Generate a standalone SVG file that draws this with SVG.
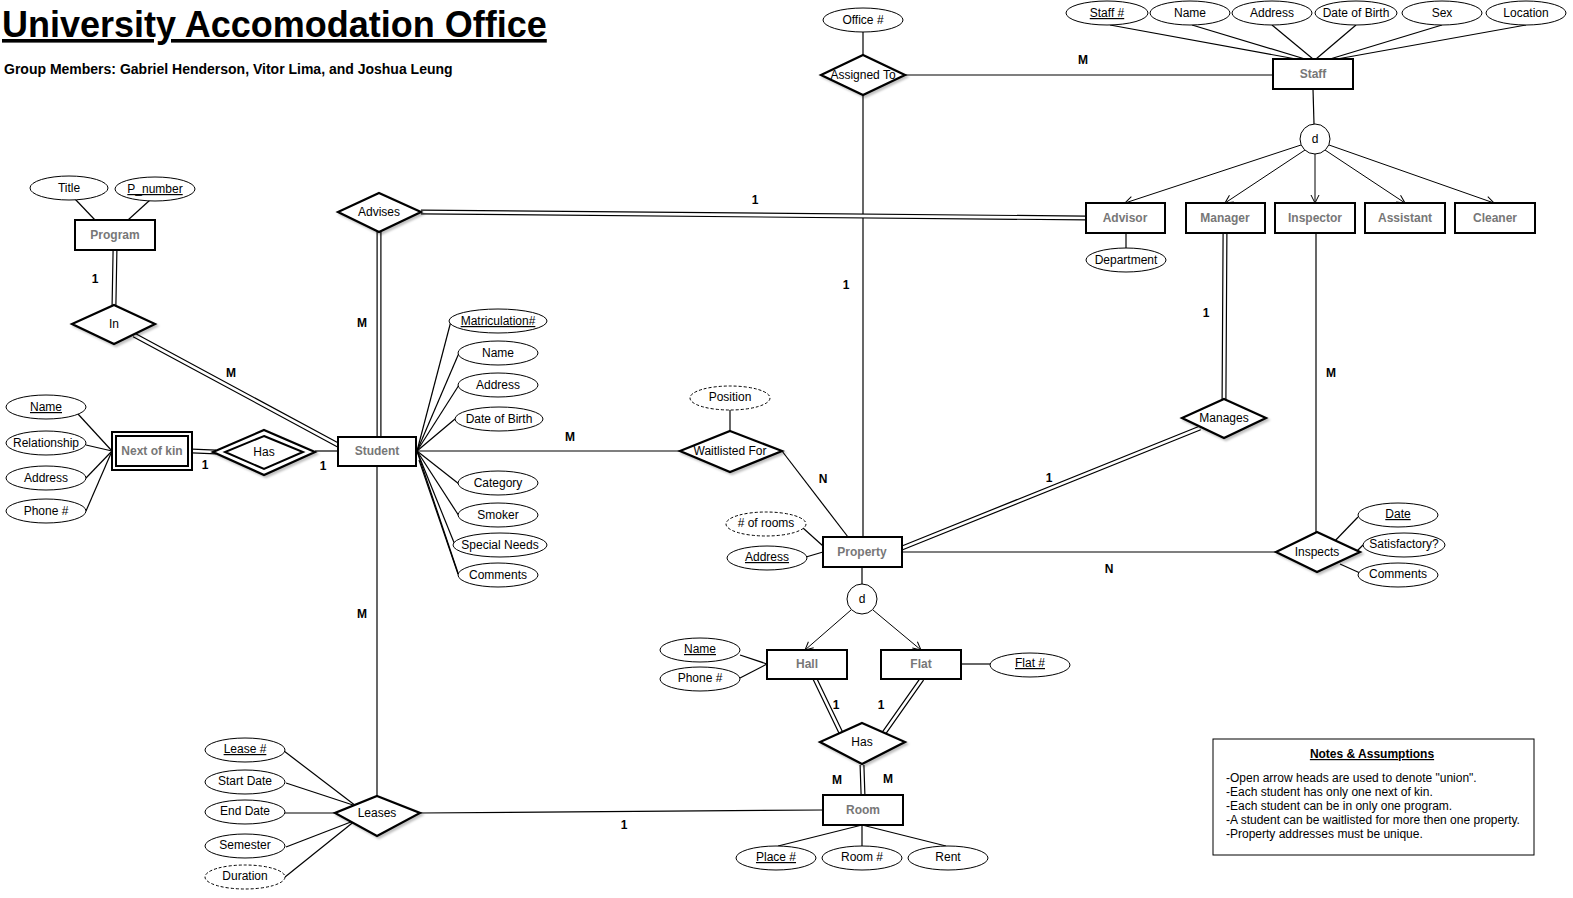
<svg xmlns="http://www.w3.org/2000/svg" width="1573" height="898" viewBox="0 0 1573 898">
<defs>
<style>
text{font-family:"Liberation Sans",Arial,sans-serif;fill:#000}
.ent{fill:#fff;stroke:#000;stroke-width:2}
.et{font-size:12px;font-weight:bold;fill:#777;text-anchor:middle}
.rel{fill:#fff;stroke:#000;stroke-width:2.2;filter:url(#sh)}
.rt{font-size:12px;text-anchor:middle}
.att{fill:#fff;stroke:#000;stroke-width:1}
.dash{stroke-dasharray:3,2}
.at{font-size:12px;text-anchor:middle}
.u{text-decoration:underline}
.ln{stroke:#000;stroke-width:1.2;fill:none}
.dbo{stroke:#000;stroke-width:5;fill:none}
.dbi{stroke:#fff;stroke-width:2.6;fill:none}
.card{font-size:12px;font-weight:bold;text-anchor:middle}
.arr{stroke:#000;stroke-width:1;fill:none;marker-end:url(#open)}
</style>
<marker id="open" viewBox="0 0 10 10" refX="9" refY="5" markerWidth="10" markerHeight="10" markerUnits="userSpaceOnUse" orient="auto">
<path d="M1,1 L9,5 L1,9" fill="none" stroke="#000" stroke-width="1"/>
</marker>
<filter id="sh" x="-20%" y="-20%" width="150%" height="150%">
<feDropShadow dx="2" dy="2" stdDeviation="1" flood-color="#000" flood-opacity="0.25"/>
</filter>
</defs>
<rect width="1573" height="898" fill="#fff"/>

<g id="title">
<text x="2" y="37" font-size="36" font-weight="bold" text-decoration="underline">University Accomodation Office</text>
<text x="4" y="74" font-size="14" font-weight="bold">Group Members: Gabriel Henderson, Vitor Lima, and Joshua Leung</text>
</g>

<g id="connectors">
<!-- attribute lines -->
<line class="ln" x1="863" y1="32" x2="863" y2="55"/>
<line class="ln" x1="1110" y1="25" x2="1296" y2="59"/>
<line class="ln" x1="1192" y1="25" x2="1305" y2="59"/>
<line class="ln" x1="1272" y1="25" x2="1313" y2="59"/>
<line class="ln" x1="1356" y1="25" x2="1316" y2="59"/>
<line class="ln" x1="1442" y1="25" x2="1330" y2="59"/>
<line class="ln" x1="1526" y1="25" x2="1337" y2="59"/>
<line class="ln" x1="1313" y1="89" x2="1314" y2="124"/>
<line class="ln" x1="1126" y1="233" x2="1126" y2="248"/>
<line class="ln" x1="75" y1="199" x2="95" y2="220"/>
<line class="ln" x1="150" y1="200" x2="128" y2="220"/>
<line class="ln" x1="78" y1="414" x2="112" y2="451"/>
<line class="ln" x1="86" y1="445" x2="112" y2="451"/>
<line class="ln" x1="86" y1="478" x2="112" y2="451"/>
<line class="ln" x1="86" y1="511" x2="112" y2="451"/>
<line class="ln" x1="451" y1="321" x2="417" y2="451"/>
<line class="ln" x1="459" y1="353" x2="417" y2="451"/>
<line class="ln" x1="459" y1="385" x2="417" y2="451"/>
<line class="ln" x1="455" y1="419" x2="417" y2="451"/>
<line class="ln" x1="459" y1="484" x2="417" y2="451"/>
<line class="ln" x1="459" y1="516" x2="417" y2="451"/>
<line class="ln" x1="455" y1="545" x2="417" y2="451"/>
<line class="ln" x1="459" y1="576" x2="417" y2="451"/>
<line class="ln" x1="458" y1="574" x2="419" y2="460"/>
<line class="ln" x1="730" y1="409" x2="730" y2="431"/>
<line class="ln" x1="803" y1="528" x2="823" y2="546"/>
<line class="ln" x1="806" y1="557" x2="823" y2="552"/>
<line class="ln" x1="1358" y1="517" x2="1331" y2="545"/>
<line class="ln" x1="1363" y1="545" x2="1353" y2="555"/>
<line class="ln" x1="1360" y1="573" x2="1340" y2="564"/>
<line class="ln" x1="740" y1="655" x2="767" y2="664"/>
<line class="ln" x1="740" y1="678" x2="767" y2="664"/>
<line class="ln" x1="961" y1="664" x2="990" y2="664"/>
<line class="ln" x1="862" y1="825" x2="778" y2="846"/>
<line class="ln" x1="862" y1="825" x2="862" y2="846"/>
<line class="ln" x1="862" y1="825" x2="946" y2="846"/>
<line class="ln" x1="284" y1="751" x2="356" y2="806"/>
<line class="ln" x1="286" y1="783" x2="356" y2="806"/>
<line class="ln" x1="285" y1="813" x2="335" y2="813"/>
<line class="ln" x1="286" y1="847" x2="356" y2="820"/>
<line class="ln" x1="285" y1="877" x2="356" y2="820"/>
<line class="ln" x1="862" y1="567" x2="862" y2="584"/>

<!-- specialisation arrows -->
<line class="arr" x1="1301" y1="145" x2="1125" y2="203"/>
<line class="arr" x1="1305" y1="150" x2="1225" y2="203"/>
<line class="arr" x1="1315" y1="154" x2="1315" y2="203"/>
<line class="arr" x1="1325" y1="150" x2="1405" y2="203"/>
<line class="arr" x1="1329" y1="145" x2="1494" y2="203"/>
<line class="arr" x1="851" y1="610" x2="805" y2="650"/>
<line class="arr" x1="873" y1="610" x2="921" y2="650"/>

<!-- relationship lines -->
<line class="ln" x1="905" y1="75" x2="1273" y2="75"/>
<line class="ln" x1="863" y1="95" x2="863" y2="537"/>
<line class="ln" x1="315" y1="451" x2="338" y2="451"/>
<line class="ln" x1="417" y1="451" x2="680" y2="451"/>
<line class="ln" x1="782" y1="451" x2="848" y2="537"/>
<line class="ln" x1="1316" y1="233" x2="1316" y2="532"/>
<line class="ln" x1="902" y1="552" x2="1276" y2="552"/>
<line class="ln" x1="377" y1="466" x2="377" y2="796"/>
<line class="ln" x1="420" y1="813" x2="823" y2="810"/>

<g id="double-lines">
<path class="dbo" d="M421,212 L1086,218 M379,232 L379,437 M115,250 L114,305 M134,335 L338,445 M192,451 L216,452 M1225,233 L1224,399 M1200,428 L902,548 M815,679 L841,733 M922,679 L884,733 M862,765 L863,795"/>
<path class="dbi" d="M421,212 L1086,218 M379,232 L379,437 M115,250 L114,305 M134,335 L338,445 M192,451 L216,452 M1225,233 L1224,399 M1200,428 L902,548 M815,679 L841,733 M922,679 L884,733 M862,765 L863,795"/>
</g>

<!-- cardinalities -->
<text class="card" x="1083" y="64">M</text>
<text class="card" x="846" y="289">1</text>
<text class="card" x="755" y="204">1</text>
<text class="card" x="362" y="327">M</text>
<text class="card" x="95" y="283">1</text>
<text class="card" x="231" y="377">M</text>
<text class="card" x="205" y="469">1</text>
<text class="card" x="323" y="470">1</text>
<text class="card" x="570" y="441">M</text>
<text class="card" x="823" y="483">N</text>
<text class="card" x="1206" y="317">1</text>
<text class="card" x="1049" y="482">1</text>
<text class="card" x="1331" y="377">M</text>
<text class="card" x="1109" y="573">N</text>
<text class="card" x="836" y="709">1</text>
<text class="card" x="881" y="709">1</text>
<text class="card" x="837" y="784">M</text>
<text class="card" x="888" y="783">M</text>
<text class="card" x="362" y="618">M</text>
<text class="card" x="624" y="829">1</text>
</g>

<!-- Entities -->
<g id="staff"><rect class="ent" x="1273" y="59" width="80" height="30"/><text class="et" x="1313" y="78">Staff</text></g>
<g id="advisor"><rect class="ent" x="1086" y="203" width="79" height="30"/><text class="et" x="1125" y="222">Advisor</text></g>
<g id="manager"><rect class="ent" x="1186" y="203" width="79" height="30"/><text class="et" x="1225" y="222">Manager</text></g>
<g id="inspector"><rect class="ent" x="1275" y="203" width="80" height="30"/><text class="et" x="1315" y="222">Inspector</text></g>
<g id="assistant"><rect class="ent" x="1365" y="203" width="80" height="30"/><text class="et" x="1405" y="222">Assistant</text></g>
<g id="cleaner"><rect class="ent" x="1455" y="203" width="80" height="30"/><text class="et" x="1495" y="222">Cleaner</text></g>
<g id="program"><rect class="ent" x="75" y="220" width="80" height="30"/><text class="et" x="115" y="239">Program</text></g>
<g id="nextofkin"><rect class="ent" x="112" y="432" width="80" height="38"/><rect x="116" y="436" width="72" height="30" fill="none" stroke="#000" stroke-width="2"/><text class="et" x="152" y="455">Next of kin</text></g>
<g id="student"><rect class="ent" x="338" y="437" width="78" height="29"/><text class="et" x="377" y="455">Student</text></g>
<g id="property"><rect class="ent" x="823" y="537" width="79" height="30"/><text class="et" x="862" y="556">Property</text></g>
<g id="hall"><rect class="ent" x="767" y="650" width="80" height="29"/><text class="et" x="807" y="668">Hall</text></g>
<g id="flat"><rect class="ent" x="881" y="650" width="80" height="29"/><text class="et" x="921" y="668">Flat</text></g>
<g id="room"><rect class="ent" x="823" y="795" width="80" height="30"/><text class="et" x="863" y="814">Room</text></g>

<!-- Disjoint circles -->
<g id="staff-d"><circle cx="1315" cy="139" r="15" fill="#fff" stroke="#000" stroke-width="1"/><text class="at" x="1315" y="143">d</text></g>
<g id="property-d"><circle cx="862" cy="599" r="15" fill="#fff" stroke="#000" stroke-width="1"/><text class="at" x="862" y="603">d</text></g>

<!-- Relationships -->
<g id="assignedto"><polygon class="rel" points="863,55 905,75 863,95 821,75"/><text class="rt" x="863" y="79">Assigned To</text></g>
<g id="advises"><polygon class="rel" points="379,193 421,212 379,232 338,212"/><text class="rt" x="379" y="216">Advises</text></g>
<g id="in"><polygon class="rel" points="114,305 155,324 114,344 72,324"/><text class="rt" x="114" y="328">In</text></g>
<g id="has-kin"><polygon class="rel" points="264,430 315,452 264,475 213,452"/><polygon points="264,436 303,452 264,469 225,452" fill="none" stroke="#000" stroke-width="2"/><text class="rt" x="264" y="456">Has</text></g>
<g id="waitlisted"><polygon class="rel" points="730,431 782,451 730,472 680,451"/><text class="rt" x="730" y="455">Waitlisted For</text></g>
<g id="manages"><polygon class="rel" points="1224,399 1266,418 1224,438 1182,418"/><text class="rt" x="1224" y="422">Manages</text></g>
<g id="inspects"><polygon class="rel" points="1317,532 1360,552 1317,572 1276,552"/><text class="rt" x="1317" y="556">Inspects</text></g>
<g id="has-room"><polygon class="rel" points="862,723 905,742 862,764 820,742"/><text class="rt" x="862" y="746">Has</text></g>
<g id="leases"><polygon class="rel" points="377,796 420,813 377,836 335,813"/><text class="rt" x="377" y="817">Leases</text></g>

<!-- Attributes -->
<g id="a-office"><ellipse class="att" cx="863" cy="20" rx="40" ry="12"/><text class="at" x="863" y="24">Office #</text></g>
<g id="a-staffno"><ellipse class="att" cx="1107" cy="13" rx="41" ry="12"/><text class="at u" x="1107" y="17">Staff #</text></g>
<g id="a-sname"><ellipse class="att" cx="1190" cy="13" rx="40" ry="12"/><text class="at" x="1190" y="17">Name</text></g>
<g id="a-saddr"><ellipse class="att" cx="1272" cy="13" rx="40" ry="12"/><text class="at" x="1272" y="17">Address</text></g>
<g id="a-sdob"><ellipse class="att" cx="1356" cy="13" rx="41" ry="12"/><text class="at" x="1356" y="17">Date of Birth</text></g>
<g id="a-sex"><ellipse class="att" cx="1442" cy="13" rx="40" ry="12"/><text class="at" x="1442" y="17">Sex</text></g>
<g id="a-loc"><ellipse class="att" cx="1526" cy="13" rx="40" ry="12"/><text class="at" x="1526" y="17">Location</text></g>
<g id="a-dept"><ellipse class="att" cx="1126" cy="260" rx="40" ry="12"/><text class="at" x="1126" y="264">Department</text></g>
<g id="a-title"><ellipse class="att" cx="69" cy="188" rx="39" ry="12"/><text class="at" x="69" y="192">Title</text></g>
<g id="a-pnum"><ellipse class="att" cx="155" cy="189" rx="40" ry="12"/><text class="at u" x="155" y="193">P_number</text></g>
<g id="a-kname"><ellipse class="att" cx="46" cy="407" rx="40" ry="12"/><text class="at u" x="46" y="411">Name</text></g>
<g id="a-krel"><ellipse class="att" cx="46" cy="443" rx="40" ry="12"/><text class="at" x="46" y="447">Relationship</text></g>
<g id="a-kaddr"><ellipse class="att" cx="46" cy="478" rx="40" ry="12"/><text class="at" x="46" y="482">Address</text></g>
<g id="a-kphone"><ellipse class="att" cx="46" cy="511" rx="40" ry="12"/><text class="at" x="46" y="515">Phone #</text></g>
<g id="a-matric"><ellipse class="att" cx="498" cy="321" rx="49" ry="12"/><text class="at u" x="498" y="325">Matriculation#</text></g>
<g id="a-stname"><ellipse class="att" cx="498" cy="353" rx="40" ry="12"/><text class="at" x="498" y="357">Name</text></g>
<g id="a-staddr"><ellipse class="att" cx="498" cy="385" rx="40" ry="12"/><text class="at" x="498" y="389">Address</text></g>
<g id="a-stdob"><ellipse class="att" cx="499" cy="419" rx="44" ry="12"/><text class="at" x="499" y="423">Date of Birth</text></g>
<g id="a-cat"><ellipse class="att" cx="498" cy="483" rx="40" ry="12"/><text class="at" x="498" y="487">Category</text></g>
<g id="a-smoker"><ellipse class="att" cx="498" cy="515" rx="40" ry="12"/><text class="at" x="498" y="519">Smoker</text></g>
<g id="a-special"><ellipse class="att" cx="500" cy="545" rx="47" ry="12"/><text class="at" x="500" y="549">Special Needs</text></g>
<g id="a-scomm"><ellipse class="att" cx="498" cy="575" rx="40" ry="12"/><text class="at" x="498" y="579">Comments</text></g>
<g id="a-position"><ellipse class="att dash" cx="730" cy="398" rx="40" ry="12"/><text class="at" x="730" y="401">Position</text></g>
<g id="a-rooms"><ellipse class="att dash" cx="766" cy="524" rx="40" ry="12"/><text class="at" x="766" y="527">
# of rooms</text></g>
<g id="a-paddr"><ellipse class="att" cx="767" cy="558" rx="40" ry="12"/><text class="at u" x="767" y="561">Address</text></g>
<g id="a-date"><ellipse class="att" cx="1398" cy="515" rx="40" ry="12"/><text class="at u" x="1398" y="518">Date</text></g>
<g id="a-satis"><ellipse class="att" cx="1404" cy="545" rx="41" ry="12"/><text class="at" x="1404" y="548">Satisfactory?</text></g>
<g id="a-icomm"><ellipse class="att" cx="1398" cy="575" rx="40" ry="12"/><text class="at" x="1398" y="578">Comments</text></g>
<g id="a-hname"><ellipse class="att" cx="700" cy="650" rx="40" ry="12"/><text class="at u" x="700" y="653">Name</text></g>
<g id="a-hphone"><ellipse class="att" cx="700" cy="679" rx="40" ry="12"/><text class="at" x="700" y="682">Phone #</text></g>
<g id="a-flatno"><ellipse class="att" cx="1030" cy="665" rx="40" ry="12"/><text class="at u" x="1030" y="667">Flat #</text></g>
<g id="a-place"><ellipse class="att" cx="776" cy="858" rx="40" ry="12"/><text class="at u" x="776" y="861">Place #</text></g>
<g id="a-roomno"><ellipse class="att" cx="862" cy="858" rx="40" ry="12"/><text class="at" x="862" y="861">Room #</text></g>
<g id="a-rent"><ellipse class="att" cx="948" cy="858" rx="40" ry="12"/><text class="at" x="948" y="861">Rent</text></g>
<g id="a-lease"><ellipse class="att" cx="245" cy="750" rx="40" ry="12"/><text class="at u" x="245" y="753">Lease #</text></g>
<g id="a-start"><ellipse class="att" cx="245" cy="782" rx="40" ry="12"/><text class="at" x="245" y="785">Start Date</text></g>
<g id="a-end"><ellipse class="att" cx="245" cy="812" rx="40" ry="12"/><text class="at" x="245" y="815">End Date</text></g>
<g id="a-sem"><ellipse class="att" cx="245" cy="846" rx="40" ry="12"/><text class="at" x="245" y="849">Semester</text></g>
<g id="a-dur"><ellipse class="att dash" cx="245" cy="877" rx="40" ry="12"/><text class="at" x="245" y="880">Duration</text></g>

<g id="notes">
<rect x="1213" y="739" width="321" height="116" fill="#fff" stroke="#000" stroke-width="1"/>
<text x="1372" y="758" font-size="12" font-weight="bold" text-anchor="middle" text-decoration="underline">Notes &amp; Assumptions</text>
<text x="1226" y="782" font-size="12">-Open arrow heads are used to denote "union".</text>
<text x="1226" y="796" font-size="12">-Each student has only one next of kin.</text>
<text x="1226" y="810" font-size="12">-Each student can be in only one program.</text>
<text x="1226" y="824" font-size="12">-A student can be waitlisted for more then one property.</text>
<text x="1226" y="838" font-size="12">-Property addresses must be unique.</text>
</g>
</svg>
